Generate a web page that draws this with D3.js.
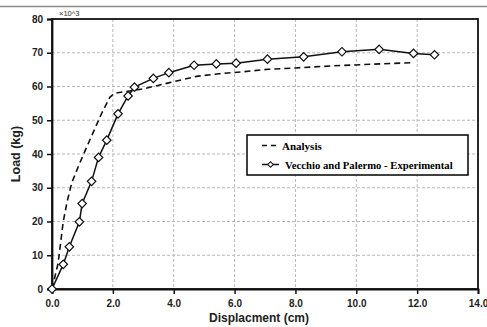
<!DOCTYPE html>
<html>
<head>
<meta charset="utf-8">
<script src="https://cdn.jsdelivr.net/npm/d3@7"></script>
<style>
  body { margin: 0; background: #fff; }
  svg { display: block; }
</style>
</head>
<body>
<svg id="chart" width="487" height="327"></svg>
<script>
// experimental (Vecchio and Palermo)
const expX = [0, 0.37, 0.57, 0.9, 0.99, 1.3, 1.53, 1.8, 2.17, 2.5, 2.71, 3.33, 3.84, 4.67, 5.4, 6.05, 7.08, 8.27, 9.53, 10.75, 11.88, 12.57];
const expY = [0, 7.3, 12.5, 19.9, 25.3, 31.9, 39.0, 44.1, 51.9, 57.2, 59.8, 62.4, 64.1, 66.3, 66.7, 66.9, 68.1, 68.8, 70.3, 71.0, 69.8, 69.4];

// analysis curve
const anaX = [0, 0.2, 0.37, 0.5, 0.65, 0.92, 1.25, 1.63, 1.9, 2.05, 2.5, 3.0, 3.8, 4.75, 5.5, 6.2, 7.1, 8.0, 9.2, 10.5, 11.9];
const anaY = [0, 7.6, 20, 26, 31.5, 37.5, 44.3, 52, 56.8, 58.0, 58.6, 59.3, 61, 63, 63.8, 64.3, 65.1, 65.5, 66.1, 66.6, 67.1];

const xTicks = [0, 2, 4, 6, 8, 10, 12, 14];
const yTicks = [0, 10, 20, 30, 40, 50, 60, 70, 80];

const svg = d3.select("#chart");
const pl = 52, pr = 478, pt = 19, pb = 289;

const x = d3.scaleLinear().domain([0, 14]).range([pl, pr]);
const y = d3.scaleLinear().domain([0, 80]).range([pb, pt]);

// thin frame line at top of the image
svg.append("line")
    .attr("x1", 0).attr("x2", 487).attr("y1", 6.5).attr("y2", 6.5)
    .attr("stroke", "#8a8a8a").attr("stroke-width", 1.5);

// grid
svg.append("g").selectAll("line")
    .data(xTicks.slice(1, -1))
    .enter().append("line")
    .attr("x1", d => x(d)).attr("x2", d => x(d))
    .attr("y1", pt).attr("y2", pb)
    .attr("stroke", "#b8b8b8").attr("stroke-dasharray", "3,2");
svg.append("g").selectAll("line")
    .data(yTicks.slice(1, -1))
    .enter().append("line")
    .attr("x1", pl).attr("x2", pr)
    .attr("y1", d => y(d)).attr("y2", d => y(d))
    .attr("stroke", "#b8b8b8").attr("stroke-dasharray", "3,2");

// border
svg.append("rect")
    .attr("x", pl).attr("y", pt)
    .attr("width", pr - pl).attr("height", pb - pt)
    .attr("fill", "none").attr("stroke", "#111").attr("stroke-width", 1.8);

const tickFont = "'Liberation Sans', Arial, sans-serif";

const xAxis = svg.append("g")
    .attr("transform", `translate(0,${pb})`)
    .call(d3.axisBottom(x).tickValues(xTicks).tickFormat(d3.format(".1f")).tickSize(5).tickPadding(6));
const yAxis = svg.append("g")
    .attr("transform", `translate(${pl},0)`)
    .call(d3.axisLeft(y).tickValues(yTicks).tickSize(5).tickPadding(4));

[xAxis, yAxis].forEach(a => {
    a.select(".domain").attr("stroke", "#111").attr("stroke-width", 1.8);
    a.selectAll(".tick line").attr("stroke", "#111").attr("stroke-width", 1.5);
    a.selectAll("text")
        .style("font-family", tickFont)
        .style("font-weight", "bold")
        .style("font-size", "10px")
        .attr("fill", "#222");
});

// multiplier
svg.append("text")
    .attr("x", 59).attr("y", 16)
    .text("\u00d710^3")
    .style("font-family", tickFont)
    .style("font-size", "7.5px")
    .attr("fill", "#333");

// axis titles
svg.append("text")
    .attr("x", 259).attr("y", 322)
    .attr("text-anchor", "middle")
    .text("Displacment (cm)")
    .style("font-family", tickFont)
    .style("font-weight", "bold")
    .style("font-size", "12px")
    .attr("fill", "#222");
svg.append("text")
    .attr("transform", `translate(20,${(pt + pb) / 2}) rotate(-90)`)
    .attr("text-anchor", "middle")
    .text("Load (kg)")
    .style("font-family", tickFont)
    .style("font-weight", "bold")
    .style("font-size", "12.5px")
    .attr("fill", "#222");

const anaData = anaX.map((v, i) => [v, anaY[i]]);
const expData = expX.map((v, i) => [v, expY[i]]);

svg.append("path")
    .datum(anaData)
    .attr("d", d3.line().x(d => x(d[0])).y(d => y(d[1])))
    .attr("fill", "none")
    .attr("stroke", "#111").attr("stroke-width", 1.6)
    .attr("stroke-dasharray", "6,4");

svg.append("path")
    .datum(expData)
    .attr("d", d3.line().x(d => x(d[0])).y(d => y(d[1])))
    .attr("fill", "none")
    .attr("stroke", "#111").attr("stroke-width", 1.5);

const diamond = d3.symbol().type(d3.symbolSquare).size(36);
svg.append("g").selectAll("path")
    .data(expData)
    .enter().append("path")
    .attr("d", diamond)
    .attr("transform", d => `translate(${x(d[0])},${y(d[1])}) rotate(45)`)
    .attr("fill", "#fff")
    .attr("stroke", "#111").attr("stroke-width", 1.2);

// legend
const lg = svg.append("g");
lg.append("rect")
    .attr("x", 247).attr("y", 135).attr("width", 221).attr("height", 40)
    .attr("fill", "#fff").attr("stroke", "#111").attr("stroke-width", 1.6);
lg.append("line")
    .attr("x1", 262).attr("x2", 277).attr("y1", 145.5).attr("y2", 145.5)
    .attr("stroke", "#111").attr("stroke-width", 1.5).attr("stroke-dasharray", "5,4");
lg.append("line")
    .attr("x1", 262).attr("x2", 279).attr("y1", 164.5).attr("y2", 164.5)
    .attr("stroke", "#111").attr("stroke-width", 1.5);
lg.append("path")
    .attr("d", d3.symbol().type(d3.symbolSquare).size(16))
    .attr("transform", "translate(270.5,164.5) rotate(45)")
    .attr("fill", "#fff").attr("stroke", "#111").attr("stroke-width", 1);
const legFont = "'Liberation Serif', 'Times New Roman', serif";
lg.append("text").attr("x", 282).attr("y", 149.5)
    .text("Analysis")
    .style("font-family", legFont).style("font-weight", "bold").style("font-size", "11px");
lg.append("text").attr("x", 285).attr("y", 168.5)
    .text("Vecchio and Palermo - Experimental")
    .style("font-family", legFont).style("font-weight", "bold").style("font-size", "10.7px");
</script>
</body>
</html>
